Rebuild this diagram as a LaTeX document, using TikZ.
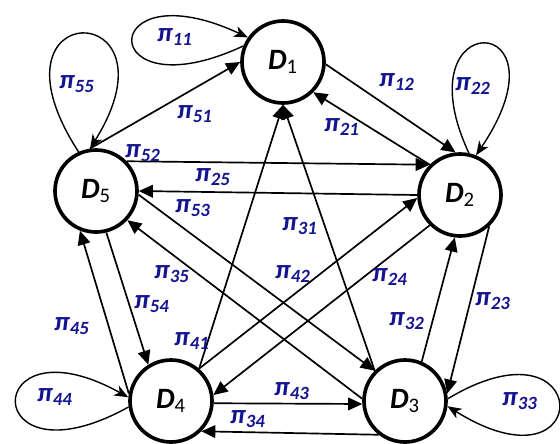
\documentclass[tikz,border=0pt]{standalone}
\usepackage{fontspec}
\setmainfont{Carlito}
\usepackage{xcolor}
\usetikzlibrary{arrows.meta, positioning}
\definecolor{pblue}{RGB}{20,20,145}
\tikzstyle{state} = [circle, minimum size=2.05cm, inner sep=0pt, draw, line width=2.6pt, font=\fontsize{21}{23}\selectfont\bfseries]
\tikzstyle{trans} = [line width=1.2pt, -{Triangle[length=10pt,width=9pt]}]
\tikzstyle{selfloop} = [line width=1pt, -{Stealth[length=10pt,width=8pt,inset=3pt]}]
\tikzstyle{plabel} = [text=pblue, font=\fontsize{19}{21}\selectfont\bfseries\itshape, inner sep=0pt]
\newcommand{\pij}[1]{π\textsubscript{#1}}
\newcommand{\dst}[1]{\textit{D}\textsubscript{\mdseries #1}}

\begin{document}
\begin{tikzpicture}[node distance=2cm]
  \useasboundingbox (-7.075,1.55) rectangle (6.925,-9.525);
  \node (d1) [state] {\dst{1}};
  \node (d2) [state, right of=d1, xshift=2.425cm, yshift=-3.325cm] {\dst{2}};
  \node (d5) [state, left of=d1, xshift=-2.675cm, yshift=-3.225cm] {\dst{5}};
  \node (d4) [state, below of=d5, xshift=1.875cm, yshift=-3.25cm] {\dst{4}};
  \node (d3) [state, right of=d4, xshift=3.85cm] {\dst{3}};

  % self loops
  \draw [selfloop] (d1.158) .. controls +(205:4.1cm) and +(155:4.2cm) .. (d1.145);
  \draw [selfloop] (d5.114) .. controls +(123:4.7cm) and +(58:4.5cm) .. (d5.98);
  \draw [selfloop] (d2.78) .. controls +(115:4.1cm) and +(56:4.4cm) .. (d2.68);
  \draw [selfloop] (d4.188) .. controls +(209:4.3cm) and +(151:4.25cm) .. (d4.175);
  \draw [selfloop] (d3.3) .. controls +(31:4.3cm) and +(-32:4.4cm) .. (d3.-7);

  % transitions
  \draw [trans] (d1.-3) -- (d2.96);
  \draw [trans] (d2.135) -- (d1.-45);
  \draw [trans] (d5.44) -- (d2.135);
  \draw [trans] (d2.180) -- (d5.0);
  \draw [trans] (d5.98) -- (d1.180);
  \draw [trans] (d5.-5) -- (d3.135);
  \draw [trans] (d3.135) -- (d1.-90);
  \draw [trans] (d4.49) -- (d1.-90);
  \draw [trans] (d4.49) -- (d2.184);
  \draw [trans] (d2.-135) -- (d4.8);
  \draw [trans] (d4.-3) -- (d3.184);
  \draw [trans] (d3.-128) -- (d4.-45);
  \draw [trans] (d3.67) -- (d2.-97);
  \draw [trans] (d2.-47) -- (d3.10);
  \draw [trans] (d3.177) -- (d5.-43);
  \draw [trans] (d5.-76) -- (d4.122);
  \draw [trans] (d4.170) -- (d5.-112);

  % labels
  \node (p11) [plabel] at (-2.7,0.625) {\pij{11}};
  \node (p55) [plabel] at (-5.15,-0.55) {\pij{55}};
  \node (p22) [plabel] at (4.75,-0.6) {\pij{22}};
  \node (p12) [plabel] at (2.85,-0.5) {\pij{12}};
  \node (p21) [plabel] at (1.475,-1.625) {\pij{21}};
  \node (p51) [plabel] at (-2.2,-1.3) {\pij{51}};
  \node (p52) [plabel] at (-3.5,-2.275) {\pij{52}};
  \node (p25) [plabel] at (-1.75,-2.875) {\pij{25}};
  \node (p53) [plabel] at (-2.25,-3.65) {\pij{53}};
  \node (p31) [plabel] at (0.425,-4.1) {\pij{31}};
  \node (p35) [plabel] at (-2.775,-5.3) {\pij{35}};
  \node (p42) [plabel] at (0.25,-5.3) {\pij{42}};
  \node (p24) [plabel] at (2.675,-5.375) {\pij{24}};
  \node (p32) [plabel] at (3.1,-6.475) {\pij{32}};
  \node (p54) [plabel] at (-3.275,-6.05) {\pij{54}};
  \node (p41) [plabel] at (-2.275,-6.975) {\pij{41}};
  \node (p23) [plabel] at (5.25,-5.975) {\pij{23}};
  \node (p45) [plabel] at (-5.275,-6.6) {\pij{45}};
  \node (p44) [plabel] at (-5.7,-8.375) {\pij{44}};
  \node (p43) [plabel] at (0.225,-8.225) {\pij{43}};
  \node (p34) [plabel] at (-0.875,-8.925) {\pij{34}};
  \node (p33) [plabel] at (5.925,-8.475) {\pij{33}};
\end{tikzpicture}
\end{document}
